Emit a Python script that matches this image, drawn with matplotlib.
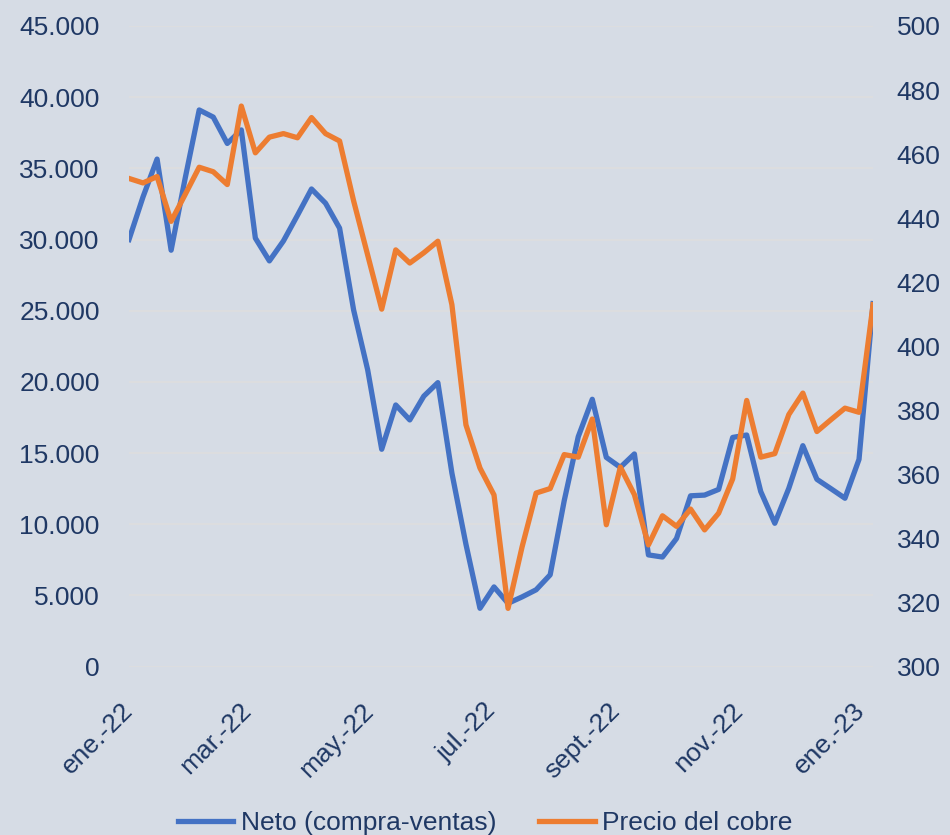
import matplotlib
matplotlib.use("Agg")
import matplotlib.pyplot as plt
from matplotlib.ticker import FuncFormatter
import pandas as pd

# weekly observations (Tuesdays), jan-2022 .. jan-2023
dates = pd.date_range("2022-01-04", periods=54, freq="7D")

neto = [30000, 33000, 35650, 29250, 34300, 39100, 38600, 36750, 37700, 30100,
        28500, 29900, 31700, 33550, 32550, 30800, 25050, 20850, 15270, 18380,
        17330, 19000, 19950, 13600, 8600, 4100, 5600, 4450, 4900, 5400,
        6450, 11650, 16150, 18780, 14700, 14000, 14940, 7850, 7700, 9000,
        12000, 12050, 12450, 16100, 16270, 12300, 10070, 12530, 15520, 13160,
        12500, 11830, 14560, 25500]

precio = [452.4, 451.0, 453.0, 439.0, 447.4, 455.9, 454.5, 450.5, 475.0, 460.4,
          465.3, 466.4, 465.1, 471.4, 466.4, 464.1, 445.4, 428.5, 411.6, 430.1,
          426.0, 429.2, 432.8, 413.0, 375.5, 362.0, 353.6, 318.2, 337.4, 354.2,
          355.6, 366.2, 365.4, 377.3, 344.3, 362.3, 353.7, 338.0, 347.1, 343.8,
          349.2, 342.7, 347.9, 358.6, 383.1, 365.4, 366.5, 378.7, 385.4, 373.4,
          377.1, 380.7, 379.4, 413.0]

tick_dates = pd.to_datetime(["2022-01-04", "2022-03-04", "2022-05-04", "2022-07-04",
                             "2022-09-04", "2022-11-04", "2023-01-04"])
tick_labels = ["ene.-22", "mar.-22", "may.-22", "jul.-22", "sept.-22", "nov.-22", "ene.-23"]

BG = "#D6DCE5"
TXT = "#1F3864"
BLUE = "#4472C4"
ORANGE = "#ED7D31"
FS = 19

plt.rcParams["font.family"] = ["Liberation Sans", "DejaVu Sans"]

fig = plt.figure(figsize=(9.5, 8.35), dpi=100, facecolor=BG)
ax = fig.add_axes([0.1358, 0.2016, 0.7832, 0.7673])
ax.set_facecolor(BG)
ax2 = ax.twinx()

l1, = ax.plot(dates, neto, color=BLUE, lw=3.8, solid_joinstyle="round",
              label="Neto (compra-ventas)", zorder=3)
l2, = ax2.plot(dates, precio, color=ORANGE, lw=3.8, solid_joinstyle="round",
               label="Precio del cobre", zorder=3)

ax.set_xlim(dates[0], dates[-1])
ax.set_ylim(0, 45000)
ax.set_yticks(range(0, 45001, 5000))
ax.yaxis.set_major_formatter(FuncFormatter(lambda v, p: f"{int(v):,}".replace(",", ".")))
ax2.set_ylim(300, 500)
ax2.set_yticks(range(300, 501, 20))

ax.grid(axis="y", color="#DEDEDE", lw=1.2, zorder=0)
ax.set_axisbelow(True)

for a in (ax, ax2):
    for s in a.spines.values():
        s.set_visible(False)

ax.set_xticks(tick_dates)
ax.set_xticklabels(tick_labels, rotation=45, ha="right", va="center",
                   rotation_mode="anchor")
ax.tick_params(axis="x", length=0, pad=29, labelsize=FS, labelcolor=TXT)
ax.tick_params(axis="y", length=0, pad=21, labelsize=FS, labelcolor=TXT)
ax2.tick_params(axis="y", length=0, pad=17, labelsize=FS, labelcolor=TXT)

leg = fig.legend(handles=[l1, l2], loc="center", bbox_to_anchor=(0.511, 0.014),
                 ncol=2, frameon=False, fontsize=FS, handlelength=2.1,
                 handletextpad=0.3, columnspacing=1.6)
for t in leg.get_texts():
    t.set_color(TXT)

fig.savefig("out.png", dpi=100, facecolor=BG)
